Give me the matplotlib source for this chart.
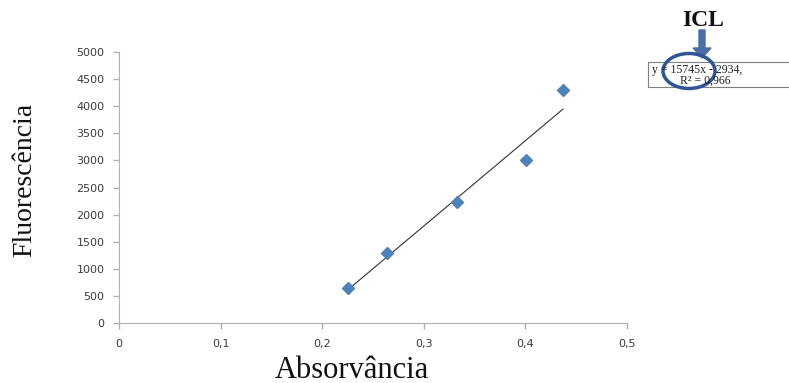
import matplotlib
matplotlib.use("Agg")
import matplotlib.pyplot as plt
from matplotlib.patches import Ellipse, FancyArrow, Rectangle
from matplotlib.transforms import IdentityTransform

# data
absorbance = [0.225, 0.264, 0.333, 0.401, 0.437]
fluorescence = [650, 1300, 2230, 3010, 4300]
slope, intercept = 15745, -2934
x_ticks = [0, 0.1, 0.2, 0.3, 0.4, 0.5]
x_tick_labels = ["0", "0,1", "0,2", "0,3", "0,4", "0,5"]
y_ticks = list(range(0, 5001, 500))

W, H = 789, 383
fig = plt.figure(figsize=(W / 100, H / 100), dpi=100)
ax = fig.add_axes([119 / W, 1 - 323 / H, (627 - 119) / W, (323 - 52) / H])

# trend line over the range of the points
x0, x1 = min(absorbance), max(absorbance)
ax.plot([x0, x1], [slope * x0 + intercept, slope * x1 + intercept],
        color="#333333", lw=0.8, zorder=2)
ax.plot(absorbance, fluorescence, linestyle="none", marker="D",
        markersize=6, color="#4f81bd", zorder=3)

ax.set_xlim(0, 0.5)
ax.set_ylim(0, 5000)
ax.set_xticks(x_ticks)
ax.set_xticklabels(x_tick_labels)
ax.set_yticks(y_ticks)
ax.spines[["top", "right"]].set_visible(False)
ax.spines[["left", "bottom"]].set_color("#b0b0b0")
ax.tick_params(colors="#b0b0b0", labelcolor="#3a3a3a", labelsize=8,
               length=4.5, width=1)
ax.tick_params(axis="y", pad=6)
ax.tick_params(axis="x", pad=7)
for lab in ax.get_xticklabels() + ax.get_yticklabels():
    lab.set_family("DejaVu Sans")

serif = "Liberation Serif"
fig.text(25 / W, 1 - 180 / H, "Fluorescência", rotation=90, ha="center",
         va="center", fontsize=20, family=serif, color="#111111")
fig.text(352 / W, 1 - 370 / H, "Absorvância", ha="center", va="center",
         fontsize=22, family=serif, color="#111111")

# annotation: ICL arrow, equation box and circle
px = IdentityTransform()
fig.text(703 / W, 1 - 20 / H, "ICL", ha="center", va="center",
         fontsize=17, fontweight="bold", family=serif, color="#111111")
fig.add_artist(FancyArrow(702, H - 30, 0, -28, width=6, head_width=18,
                          head_length=10, length_includes_head=True,
                          color="#4a6fa5", transform=px))
fig.add_artist(Rectangle((648, H - 87), 160, 25, fill=False,
                         edgecolor="#7f7f7f", lw=0.8, transform=px))
fig.text(652 / W, 1 - 70 / H, "y = 15745x - 2934,", ha="left", va="center",
         fontsize=8.5, family=serif, color="#222222")
fig.text(680 / W, 1 - 81 / H, "R² = 0,966", ha="left", va="center",
         fontsize=8.5, family=serif, color="#222222")
fig.add_artist(Ellipse((689, H - 71), 52, 35, fill=False,
                       edgecolor="#2f5597", lw=2.5, transform=px))

fig.savefig("out.png", dpi=100)
